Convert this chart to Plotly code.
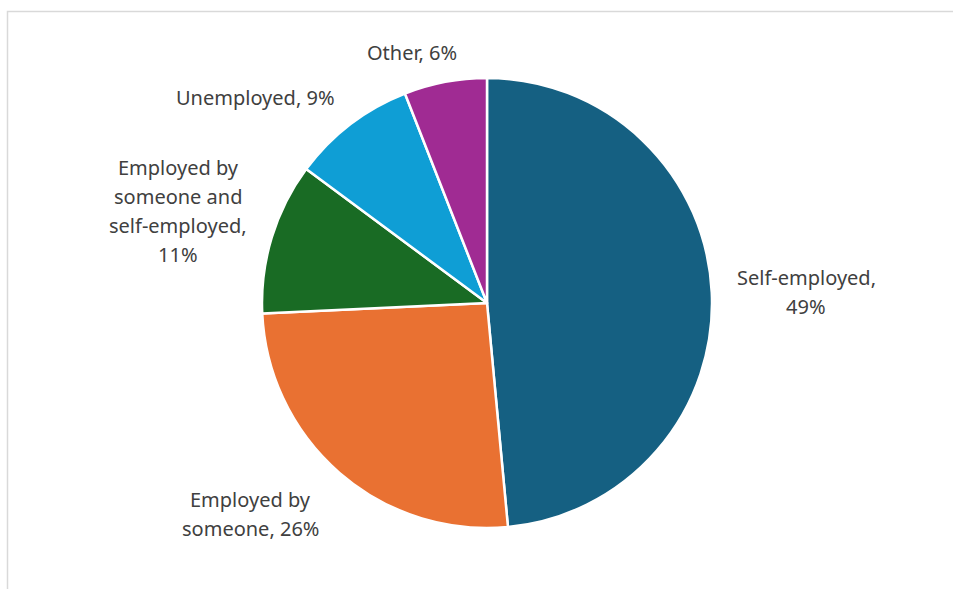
import plotly.graph_objects as go

# Employment status shares (percent)
categories = [
    "Self-employed",
    "Employed by someone",
    "Employed by someone and self-employed",
    "Unemployed",
    "Other",
]
shares = [49, 26, 11, 9, 6]
colors = ["#156082", "#E97132", "#196B24", "#0F9ED5", "#A02B93"]

# Label lines per slice ({} takes the share) and the label centres in pixels
label_lines = [
    ["Self-employed,", "{}%"],
    ["Employed by", "someone, {}%"],
    ["Employed by", "someone and", "self-employed,", "{}%"],
    ["Unemployed, {}%"],
    ["Other, {}%"],
]
label_pos = [(806, 292), (250, 514), (178, 211), (255, 97), (412, 53)]
line_gap = 29

W, H = 953, 589
cx, cy, r = 487, 303, 225

fig = go.Figure(
    go.Pie(
        labels=categories,
        values=shares,
        sort=False,
        direction="clockwise",
        rotation=0,
        marker=dict(colors=colors, line=dict(color="white", width=2.5)),
        textinfo="none",
        hoverinfo="label+percent",
        showlegend=False,
        domain=dict(
            x=[(cx - r) / W, (cx + r) / W],
            y=[1 - (cy + r) / H, 1 - (cy - r) / H],
        ),
    )
)

for lines, val, (px, py) in zip(label_lines, shares, label_pos):
    n = len(lines)
    for i, line in enumerate(lines):
        ly = py + (i - (n - 1) / 2) * line_gap
        fig.add_annotation(
            x=px / W,
            y=1 - ly / H,
            xref="paper",
            yref="paper",
            text=line.format(val),
            showarrow=False,
            xanchor="center",
            yanchor="middle",
            font=dict(family="Noto Sans", size=20, color="#404040"),
        )

# Chart area border
fig.add_shape(
    type="rect",
    xref="paper",
    yref="paper",
    x0=7.5 / W,
    x1=1.05,
    y0=-0.05,
    y1=1 - 11.5 / H,
    line=dict(color="#d9d9d9", width=1.5),
    fillcolor="rgba(0,0,0,0)",
)

fig.update_layout(
    width=W,
    height=H,
    margin=dict(l=0, r=0, t=0, b=0),
    paper_bgcolor="white",
    plot_bgcolor="white",
)

fig.write_html("out.html")
